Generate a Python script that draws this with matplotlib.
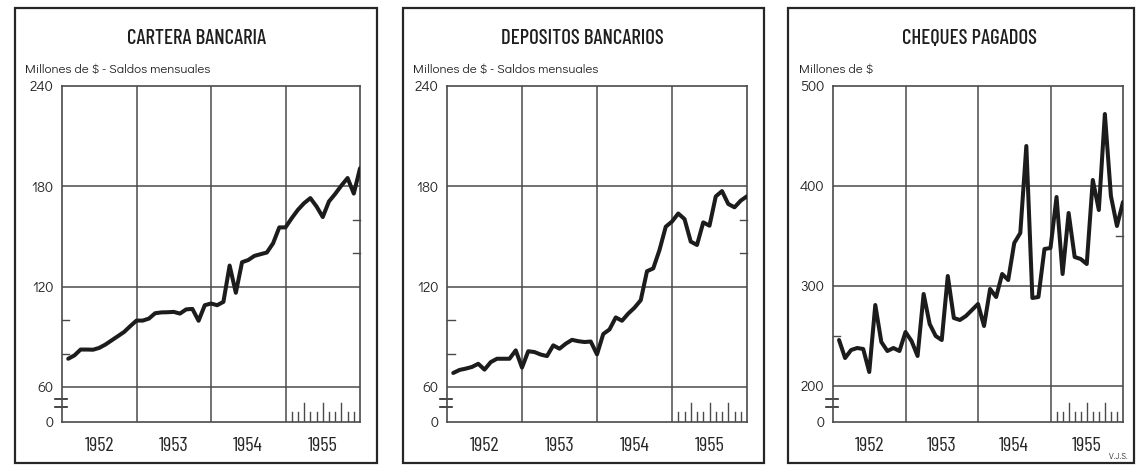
import matplotlib
matplotlib.use('Agg')
import matplotlib.pyplot as plt
import numpy as np
from matplotlib.patches import Rectangle
from matplotlib import font_manager

# ---------------- data ----------------
years = [1952, 1953, 1954, 1955]
year_labels = ['1952', '1953', '1954', '1955']

cartera = [77, 79, 82.5, 82.5, 82.4, 83.5, 85.5, 88, 90.5, 93, 96.5, 99.8,
           99.8, 101, 104.2, 104.7, 104.8, 105, 104, 106.5, 106.8, 99.7, 109, 110,
           109, 111, 132.7, 116.4, 134.7, 136, 138.5, 139.5, 140.5, 146, 155.5, 155.5,
           161, 166, 170, 173, 168, 161.7, 171, 175.5, 180.5, 185, 175.7, 190.8]

depositos = [68.5, 70.3, 71.1, 72.1, 74, 70.5, 75, 77, 77, 77, 82, 71.7,
             81.5, 81, 79.5, 78.6, 85, 83, 86, 88.3, 87.5, 87, 87.3, 79.6,
             91.8, 94.5, 101.7, 99.7, 104, 107.5, 112, 129.3, 131, 142, 155.9, 159,
             163.8, 160.5, 147, 145, 158.5, 156.5, 174, 177.2, 169.5, 167.5, 171.5, 174.1]

cheques = [246, 228, 236, 238, 237, 214, 281, 244, 235, 238, 235, 254,
           245, 230, 292, 262, 250, 246, 310, 268, 266, 270, 276, 282,
           260, 297, 289, 312, 306, 343, 353, 440, 288, 289, 337, 338,
           389, 312, 373, 329, 327, 322, 406, 376, 472, 390, 360, 384]

titles = ['CARTERA BANCARIA', 'DEPOSITOS BANCARIOS', 'CHEQUES PAGADOS']
subtitles = ['Millones de $ - Saldos mensuales',
             'Millones de $ - Saldos mensuales',
             'Millones de $']
yticks_a = [0, 60, 120, 180, 240]
yticks_b = [0, 200, 300, 400, 500]
minor_left_a = [80, 100]
minor_right_a = [140, 160]
minor_left_b = [250]
minor_right_b = [350]

# ---------------- fonts ----------------
available = {f.name for f in font_manager.fontManager.ttflist}


def pick(prefs):
    for n in prefs:
        if n in available:
            return [n, 'DejaVu Sans']
    return ['DejaVu Sans']


NARROW = pick(['Barlow Condensed', 'Archivo Narrow', 'Fira Sans Condensed',
               'Encode Sans Condensed', 'Liberation Sans Narrow'])
ROUND = pick(['Didact Gothic', 'Questrial', 'Century Gothic', 'Jost', 'DejaVu Sans'])

# ---------------- layout ----------------
W, H = 1138, 466
fig = plt.figure(figsize=(W / 100, H / 100), dpi=100)
fig.patch.set_facecolor('white')

INK = '#262626'
GRID = '#4a4a4a'


def px_rect(l, r, t, b):
    return [l / W, 1 - b / H, (r - l) / W, (b - t) / H]


def break_scale(brk, comp):
    def fwd(v):
        v = np.asarray(v, dtype=float)
        return np.where(v >= brk, v, brk - (brk - v) * comp)

    def inv(u):
        u = np.asarray(u, dtype=float)
        return np.where(u >= brk, u, brk - (brk - u) / comp)
    return fwd, inv


panels = [
    dict(frame=(15, 377), axes=(62, 360), data=cartera, title=titles[0], tx=197,
         sub=subtitles[0], sx=25, yt=yticks_a, brk=60, comp=20.8 / 60,
         ml=minor_left_a, mr=minor_right_a),
    dict(frame=(403, 764), axes=(447, 747), data=depositos, title=titles[1], tx=582,
         sub=subtitles[1], sx=413, yt=yticks_a, brk=60, comp=20.8 / 60,
         ml=minor_left_a, mr=minor_right_a),
    dict(frame=(788, 1134), axes=(833, 1123), data=cheques, title=titles[2], tx=970,
         sub=subtitles[2], sx=799, yt=yticks_b, brk=200, comp=36 / 200,
         ml=minor_left_b, mr=minor_right_b),
]

AX_T, AX_B = 86, 422
ax_h = float(AX_B - AX_T)

for p in panels:
    fl, fr = p['frame']
    fig.add_artist(Rectangle((fl / W, 1 - 463 / H), (fr - fl) / W, (463 - 8) / H,
                             transform=fig.transFigure, fill=False,
                             edgecolor='#262626', linewidth=1.6))
    al, ar = p['axes']
    axw = float(ar - al)
    ax = fig.add_axes(px_rect(al, ar, AX_T, AX_B))
    fwd, inv = break_scale(p['brk'], p['comp'])
    ax.set_yscale('function', functions=(fwd, inv))
    yt = p['yt']
    ax.set_ylim(yt[0], yt[-1])
    ax.set_xlim(years[0], years[-1] + 1)

    n = len(p['data'])
    x = years[0] + (np.arange(n) + 1) / 12.0
    ax.plot(x, p['data'], color='#1c1c1c', linewidth=2.9, solid_joinstyle='round',
            solid_capstyle='round', zorder=5)

    for yv in yt[1:-1]:
        ax.axhline(yv, color=GRID, linewidth=1.1, zorder=1)
    for yr in years[1:]:
        ax.axvline(yr, color=GRID, linewidth=1.1, zorder=1)

    for s in ax.spines.values():
        s.set_color(GRID)
        s.set_linewidth(1.2)

    ax.set_yticks(yt)
    ax.set_yticklabels([str(v) for v in yt], fontsize=10.5, color=INK,
                       family=ROUND)
    ax.set_xticks([y + 0.5 for y in years])
    ax.set_xticklabels(year_labels, fontsize=14.5, color=INK, family=NARROW)
    ax.tick_params(axis='y', length=0, pad=6)
    ax.tick_params(axis='x', length=0, pad=11)
    ax.set_yticks([], minor=True)
    ax.set_xticks([], minor=True)

    # minor inward ticks
    ytr = ax.get_yaxis_transform()
    for yv in p['ml']:
        ax.plot([0, 0.025], [yv, yv], transform=ytr, color=GRID, lw=1.0, clip_on=False)
    for yv in p['mr']:
        ax.plot([0.975, 1.0], [yv, yv], transform=ytr, color=GRID, lw=1.0, clip_on=False)

    # axis-break marks
    for ypix in (15, 23):
        yax = ypix / ax_h
        ax.plot([-7 / axw, 5 / axw], [yax, yax], transform=ax.transAxes,
                color=INK, lw=1.2, clip_on=False)

    # month ticks for last year
    xtr = ax.get_xaxis_transform()
    last = years[-1]
    for k in range(1, 12):
        h = 19 / ax_h if k % 3 == 0 else 10 / ax_h
        ax.plot([last + k / 12.0] * 2, [0, h], transform=xtr, color=GRID, lw=1.0)

    fig.text(p['tx'] / W, 1 - 38 / H, p['title'], ha='center', va='center',
             fontsize=15, color='#1e1e1e', family=NARROW, fontweight='medium',
             parse_math=False)
    fig.text(p['sx'] / W, 1 - 69 / H, p['sub'], ha='left', va='center',
             fontsize=9.4, color=INK, family=ROUND, parse_math=False)

fig.text(1118 / W, 1 - 457 / H, 'V.J.S.', ha='center', va='center',
         fontsize=6, color=INK, family=ROUND)

fig.savefig('out.png', dpi=100, facecolor='white')
